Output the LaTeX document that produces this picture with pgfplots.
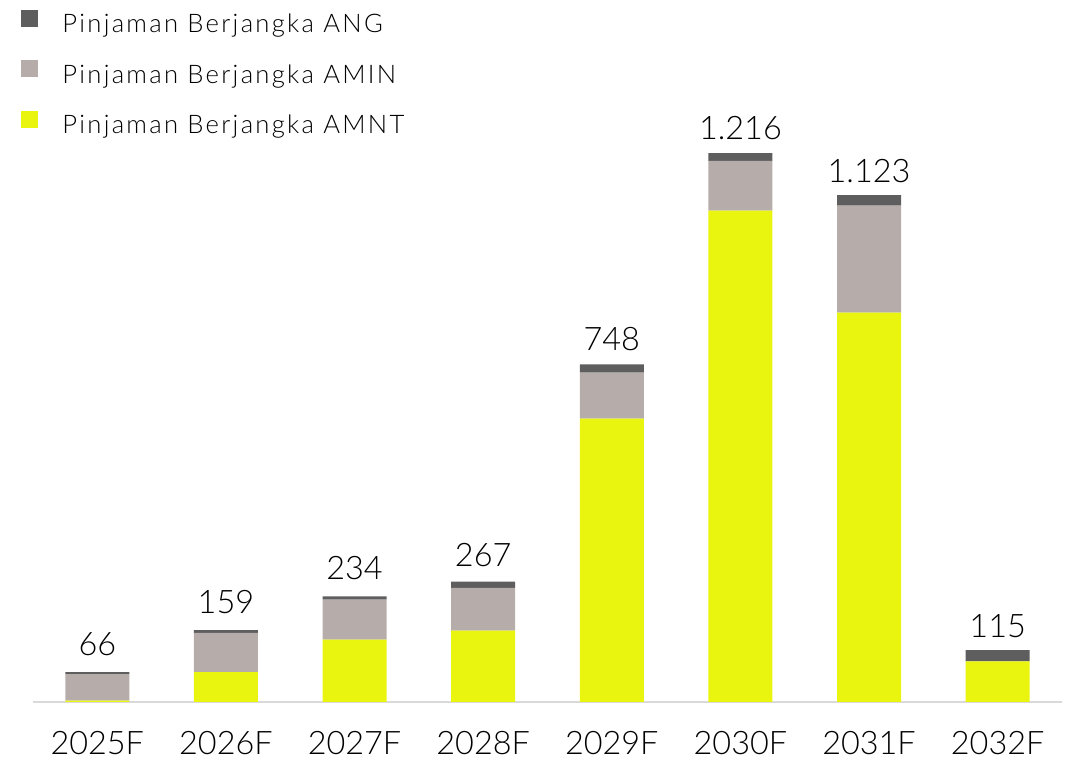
\documentclass[border=0pt]{standalone}
\usepackage{fontspec}
\setmainfont{Lato Light}
\newfontfamily\legfont{Lato Light}[LetterSpace=9]
\usepackage{pgfplots}
\usepackage{pgfplotstable}
\pgfplotsset{compat=1.18}
\definecolor{cYel}{HTML}{E9F50E}
\definecolor{cLgr}{HTML}{B6ADAA}
\definecolor{cDgr}{HTML}{5E5E5E}
\definecolor{cAx}{HTML}{D9D9D9}
\pgfplotstableread{
x amnt amin ang total
0 3 59 4 66
1 66 87 6 159
2 138 89 7 234
3 158 95 14 267
4 628 102 18 748
5 1089 110 17 1.216
6 863 237 23 1.123
7 90 0 25 115
}\datatable
\begin{document}
\begin{tikzpicture}
\begin{axis}[
  scale only axis,
  width=514.5bp, height=301bp,
  xmin=-0.5, xmax=7.5, ymin=0, ymax=1334,
  ybar stacked, bar width=32bp,
  axis y line=none,
  axis x line*=bottom,
  x axis line style={draw=cAx, line width=0.8bp},
  xtick=data,
  xticklabels={2025F,2026F,2027F,2028F,2029F,2030F,2031F,2032F},
  major tick length=0pt,
  xticklabel style={anchor=base, yshift=-26bp, font=\fontsize{16.2bp}{18bp}\selectfont, inner sep=0pt},
  legend style={at={(axis description cs:0,1)}, anchor=north west, xshift=-6bp, yshift=45.4bp,
    draw=none, fill=none, font=\legfont\fontsize{12.8bp}{14bp}\selectfont,
    row sep=11.2bp, inner sep=0pt,
    nodes={inner sep=0pt, text height=8.6bp, text depth=2.6bp},
    /tikz/every odd column/.append style={column sep=12bp}},
  legend cell align=left,
  reverse legend,
  legend image code/.code={\fill[#1] (0bp,0bp) rectangle (8.5bp,8.5bp);},
]
\addplot[fill=cYel, draw=none] table[x=x, y=amnt] {\datatable};
\addplot[fill=cLgr, draw=none] table[x=x, y=amin] {\datatable};
\addplot[fill=cDgr, draw=none,
  nodes near coords, point meta=explicit symbolic,
  nodes near coords style={anchor=base, yshift=9bp, inner sep=0pt, text=black, font=\fontsize{16.2bp}{18bp}\selectfont}]
  table[x=x, y=ang, meta=total] {\datatable};
\legend{Pinjaman Berjangka AMNT, Pinjaman Berjangka AMIN, Pinjaman Berjangka ANG}
\end{axis}
\pgfresetboundingbox
\path[use as bounding box] (-16.5bp,-28bp) rectangle (519bp,351bp);
\end{tikzpicture}
\end{document}
